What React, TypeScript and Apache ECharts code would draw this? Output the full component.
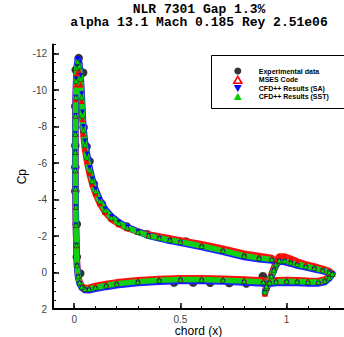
import React, { useEffect, useRef } from "react";
import * as echarts from "echarts";

// ---------- texts ----------
const titleLines = ["NLR 7301 Gap 1.3%", "alpha 13.1 Mach 0.185 Rey 2.51e06"];
const seriesNames = ["Experimental data", "MSES Code", "CFD++ Results (SA)", "CFD++ Results (SST)"];
const xAxisName = "chord (x)";
const yAxisName = "Cp";

// ---------- axes ----------
const xMin = -0.1;
const xMax = 1.27;
const yMin = -12.5;
const yMax = 2;
const xMajorTicks = [0, 0.5, 1];
const yMajorTicks = [-12, -10, -8, -6, -4, -2, 0, 2];
const xMinorStep = 0.1;
const yMinorStep = 0.5;

// ---------- experimental data (black circles) ----------
const expChord = [
  0.021, 0.007, 0.042, 0.005, 0.044, 0.005, 0.058, 0.072, 0.005, 0.092, 0.005, 0.13, 0.187, 0.012,
  0.247, 0.343, 0.443, 0.525, 0.012, 0.028, 0.47, 0.56, 0.64, 0.73, 0.81, 0.888, 0.893,
];
const expCp = [
  -11.75, -11.1, -10.95, -9.1, -7.95, -6.95, -6.9, -6.1, -5.77, -4.86, -4.45, -3.76, -2.9, -2.65,
  -2.52, -2.1, -1.83, -1.7, -0.85, 0.05, 0.55, 0.55, 0.56, 0.58, 0.6, 0.2, 0.55,
];

// ---------- main element: lower TE -> LE -> upper TE ----------
const mainChord = [
  0.89, 0.8, 0.7, 0.6, 0.5, 0.4, 0.3, 0.2, 0.15, 0.1, 0.07, 0.05, 0.035, 0.025, 0.018, 0.013,
  0.01, 0.008, 0.007, 0.006, 0.005, 0.005, 0.005, 0.006, 0.007, 0.009,
  0.012, 0.017, 0.024, 0.03,
  0.035, 0.039, 0.043, 0.05, 0.06, 0.072, 0.085, 0.1, 0.12, 0.145, 0.175, 0.21, 0.25, 0.3, 0.35,
  0.4, 0.45, 0.5, 0.6, 0.7, 0.8, 0.87, 0.93,
];
const mainSST = [
  0.52, 0.47, 0.42, 0.39, 0.39, 0.43, 0.5, 0.62, 0.71, 0.82, 0.9, 0.9, 0.78, 0.55, 0.2, -0.4,
  -1.5, -2.6, -3.6, -4.6, -5.6, -6.6, -7.6, -8.6, -9.6, -10.5,
  -11.2, -11.55, -11.3, -10.6,
  -9.6, -8.6, -7.8, -7.0, -6.3, -5.6, -5.0, -4.45, -3.9, -3.4, -3.0, -2.7, -2.45, -2.22, -2.02,
  -1.9, -1.78, -1.68, -1.45, -1.2, -0.92, -0.8, -0.72,
];
const mainMSES = [
  0.44, 0.39, 0.34, 0.31, 0.31, 0.35, 0.42, 0.54, 0.63, 0.74, 0.83, 0.85, 0.74, 0.5, 0.15, -0.45,
  -1.5, -2.6, -3.6, -4.6, -5.6, -6.6, -7.6, -8.6, -9.5, -10.3,
  -10.9, -11.2, -11.0, -10.3,
  -9.4, -8.4, -7.6, -6.8, -6.1, -5.42, -4.85, -4.33, -3.8, -3.31, -2.93, -2.65, -2.43, -2.24, -2.08,
  -1.97, -1.86, -1.76, -1.55, -1.3, -1.03, -0.9, -0.8,
];
const mainSA = [
  0.6, 0.55, 0.5, 0.47, 0.47, 0.51, 0.58, 0.7, 0.79, 0.9, 0.97, 0.96, 0.83, 0.6, 0.25, -0.35,
  -1.5, -2.6, -3.6, -4.6, -5.6, -6.6, -7.6, -8.6, -9.6, -10.6,
  -11.3, -11.7, -11.5, -10.8,
  -9.8, -8.8, -8.0, -7.2, -6.5, -5.75, -5.12, -4.57, -4.0, -3.48, -3.07, -2.75, -2.49, -2.24, -2.01,
  -1.87, -1.74, -1.63, -1.39, -1.13, -0.85, -0.73, -0.65,
];

// ---------- flap: TE upper -> LE -> TE lower ----------
const flapChord = [
  1.215, 1.2, 1.17, 1.13, 1.09, 1.05, 1.02, 0.99, 0.965, 0.95, 0.94, 0.928, 0.915, 0.905, 0.898,
  0.905, 0.92, 0.95, 1.0, 1.05, 1.1, 1.15, 1.18, 1.2, 1.215,
];
const flapSST = [
  0.08, -0.02, -0.12, -0.24, -0.34, -0.45, -0.55, -0.64, -0.66, -0.45, -0.15, 0.2, 0.55, 0.85, 1.08,
  0.75, 0.55, 0.5, 0.48, 0.49, 0.52, 0.52, 0.45, 0.28, 0.08,
];
const flapMSES = [
  0.05, -0.08, -0.2, -0.33, -0.45, -0.6, -0.75, -0.88, -0.88, -0.6, -0.25, 0.12, 0.5, 0.85, 1.15,
  0.7, 0.48, 0.43, 0.41, 0.42, 0.45, 0.46, 0.38, 0.22, 0.05,
];
const flapSA = [
  0.1, 0.02, -0.07, -0.18, -0.28, -0.38, -0.48, -0.57, -0.6, -0.4, -0.1, 0.25, 0.6, 0.88, 1.05,
  0.8, 0.62, 0.58, 0.56, 0.57, 0.6, 0.6, 0.52, 0.33, 0.1,
];

const zip = (xs: number[], ys: number[]) => xs.map((x, i) => [x, ys[i]]);

const FONT = "Liberation Sans";
const downTriangle = "path://M0,0L10,0L5,9Z";

type Style = {
  name: string;
  line: string;
  lineWidth: number;
  symbol: string;
  symbolSize: number;
  fill: string;
  border: string;
  borderWidth: number;
};

const cfdStyles: Style[] = [
  { name: seriesNames[1], line: "#ff1010", lineWidth: 6.5, symbol: "triangle", symbolSize: 6, fill: "#ff0000", border: "#ff0000", borderWidth: 0 },
  { name: seriesNames[2], line: "#1e1eff", lineWidth: 6.5, symbol: downTriangle, symbolSize: 5, fill: "#0000ff", border: "#0000ff", borderWidth: 0 },
  { name: seriesNames[3], line: "#10d010", lineWidth: 5.5, symbol: "triangle", symbolSize: 5, fill: "#00e000", border: "#0a3a0a", borderWidth: 0.6 },
];

function lineSeries(st: Style, data: number[][]) {
  return {
    type: "line",
    name: st.name,
    xAxisIndex: 0,
    yAxisIndex: 0,
    data,
    showSymbol: true,
    symbol: st.symbol,
    symbolSize: st.symbolSize,
    itemStyle: { color: st.fill, borderColor: st.border, borderWidth: st.borderWidth },
    lineStyle: { color: st.line, width: st.lineWidth, cap: "round", join: "round" },
    emphasis: { disabled: true },
    silent: true,
  };
}

export default function App() {
  const ref = useRef<HTMLDivElement>(null);
  useEffect(() => {
    if (!ref.current) return;
    const chart = echarts.init(ref.current, undefined, { renderer: "svg" });
    const gridBox = { left: 53, right: 0, top: 44.4, bottom: 28, containLabel: false, outerBoundsMode: "none" };
    const option: any = {
      animation: false,
      textStyle: { fontFamily: FONT },
      grid: [gridBox, { ...gridBox }],
      graphic: [
        {
          type: "text",
          x: 199,
          y: 16,
          style: {
            text: titleLines.join("\n"),
            align: "center",
            verticalAlign: "middle",
            fontFamily: "Liberation Mono",
            fontWeight: "bold",
            fontSize: 13,
            lineHeight: 13.5,
            fill: "#000",
          },
        },
        {
          type: "rect",
          z: 0,
          shape: { x: 211.5, y: 55.5, width: 140, height: 53 },
          style: { fill: "#fff", stroke: "#000", lineWidth: 1 },
        },
      ],
      legend: {
        orient: "vertical",
        left: 233,
        top: 67.5,
        padding: 0,
        itemWidth: 8,
        itemHeight: 7,
        itemGap: 1,
        selectedMode: false,
        textStyle: { fontSize: 7, fontWeight: "bold", color: "#000", fontFamily: FONT, padding: [0, 0, 0, 12] },
        data: [
          { name: seriesNames[0], icon: "circle", itemStyle: { color: "#000", borderWidth: 0 } },
          { name: seriesNames[1], icon: "triangle", itemStyle: { color: "#fff", borderColor: "#ff0000", borderWidth: 1.6 } },
          { name: seriesNames[2], icon: downTriangle, itemStyle: { color: "#0000ff", borderWidth: 0 } },
          { name: seriesNames[3], icon: "triangle", itemStyle: { color: "#00d000", borderWidth: 0 } },
        ],
      },
      xAxis: [
        {
          gridIndex: 0,
          type: "value",
          min: xMin,
          max: xMax,
          axisLine: { onZero: false, lineStyle: { color: "#000", width: 2 } },
          axisTick: { show: true, inside: true, length: 6, customValues: xMajorTicks, lineStyle: { color: "#000", width: 1.5 } },
          axisLabel: { customValues: xMajorTicks, margin: 5, fontSize: 10, color: "#444", fontFamily: FONT },
          splitLine: { show: false },
          name: xAxisName,
          nameLocation: "middle",
          nameGap: 16,
          nameMoveOverlap: false,
          nameTextStyle: { fontSize: 12, color: "#000", fontFamily: FONT },
        },
        {
          gridIndex: 1,
          type: "value",
          min: xMin,
          max: xMax,
          interval: xMinorStep,
          axisLine: { show: false, onZero: false },
          axisTick: { show: true, inside: true, length: 3, lineStyle: { color: "#000", width: 1 } },
          axisLabel: { show: false },
          splitLine: { show: false },
        },
      ],
      yAxis: [
        {
          gridIndex: 0,
          type: "value",
          inverse: true,
          min: yMin,
          max: yMax,
          axisLine: { onZero: false, lineStyle: { color: "#000", width: 2 } },
          axisTick: { show: true, inside: true, length: 6, customValues: yMajorTicks, lineStyle: { color: "#000", width: 1.5 } },
          axisLabel: { customValues: yMajorTicks, margin: 6, fontSize: 10, color: "#444", fontFamily: FONT },
          splitLine: { show: false },
          name: yAxisName,
          nameLocation: "middle",
          nameGap: 25,
          nameMoveOverlap: false,
          nameTextStyle: { fontSize: 12, color: "#000", fontFamily: FONT },
        },
        {
          gridIndex: 1,
          type: "value",
          inverse: true,
          min: yMin,
          max: yMax,
          interval: yMinorStep,
          axisLine: { show: false, onZero: false },
          axisTick: { show: true, inside: true, length: 3, lineStyle: { color: "#000", width: 1 } },
          axisLabel: { show: false },
          splitLine: { show: false },
        },
      ],
      series: [
        {
          type: "scatter",
          name: seriesNames[0],
          xAxisIndex: 0,
          yAxisIndex: 0,
          data: zip(expChord, expCp),
          symbol: "circle",
          symbolSize: 8.5,
          itemStyle: { color: "#000" },
          silent: true,
        },
        lineSeries(cfdStyles[0], zip(mainChord, mainMSES)),
        lineSeries(cfdStyles[0], zip(flapChord, flapMSES)),
        lineSeries(cfdStyles[1], zip(mainChord, mainSA)),
        lineSeries(cfdStyles[1], zip(flapChord, flapSA)),
        lineSeries(cfdStyles[2], zip(mainChord, mainSST)),
        lineSeries(cfdStyles[2], zip(flapChord, flapSST)),
      ],
    };
    chart.setOption(option);
    return () => chart.dispose();
  }, []);
  return <div ref={ref} style={{ position: "absolute", left: 0, top: 0, width: 344, height: 337 }} />;
}
